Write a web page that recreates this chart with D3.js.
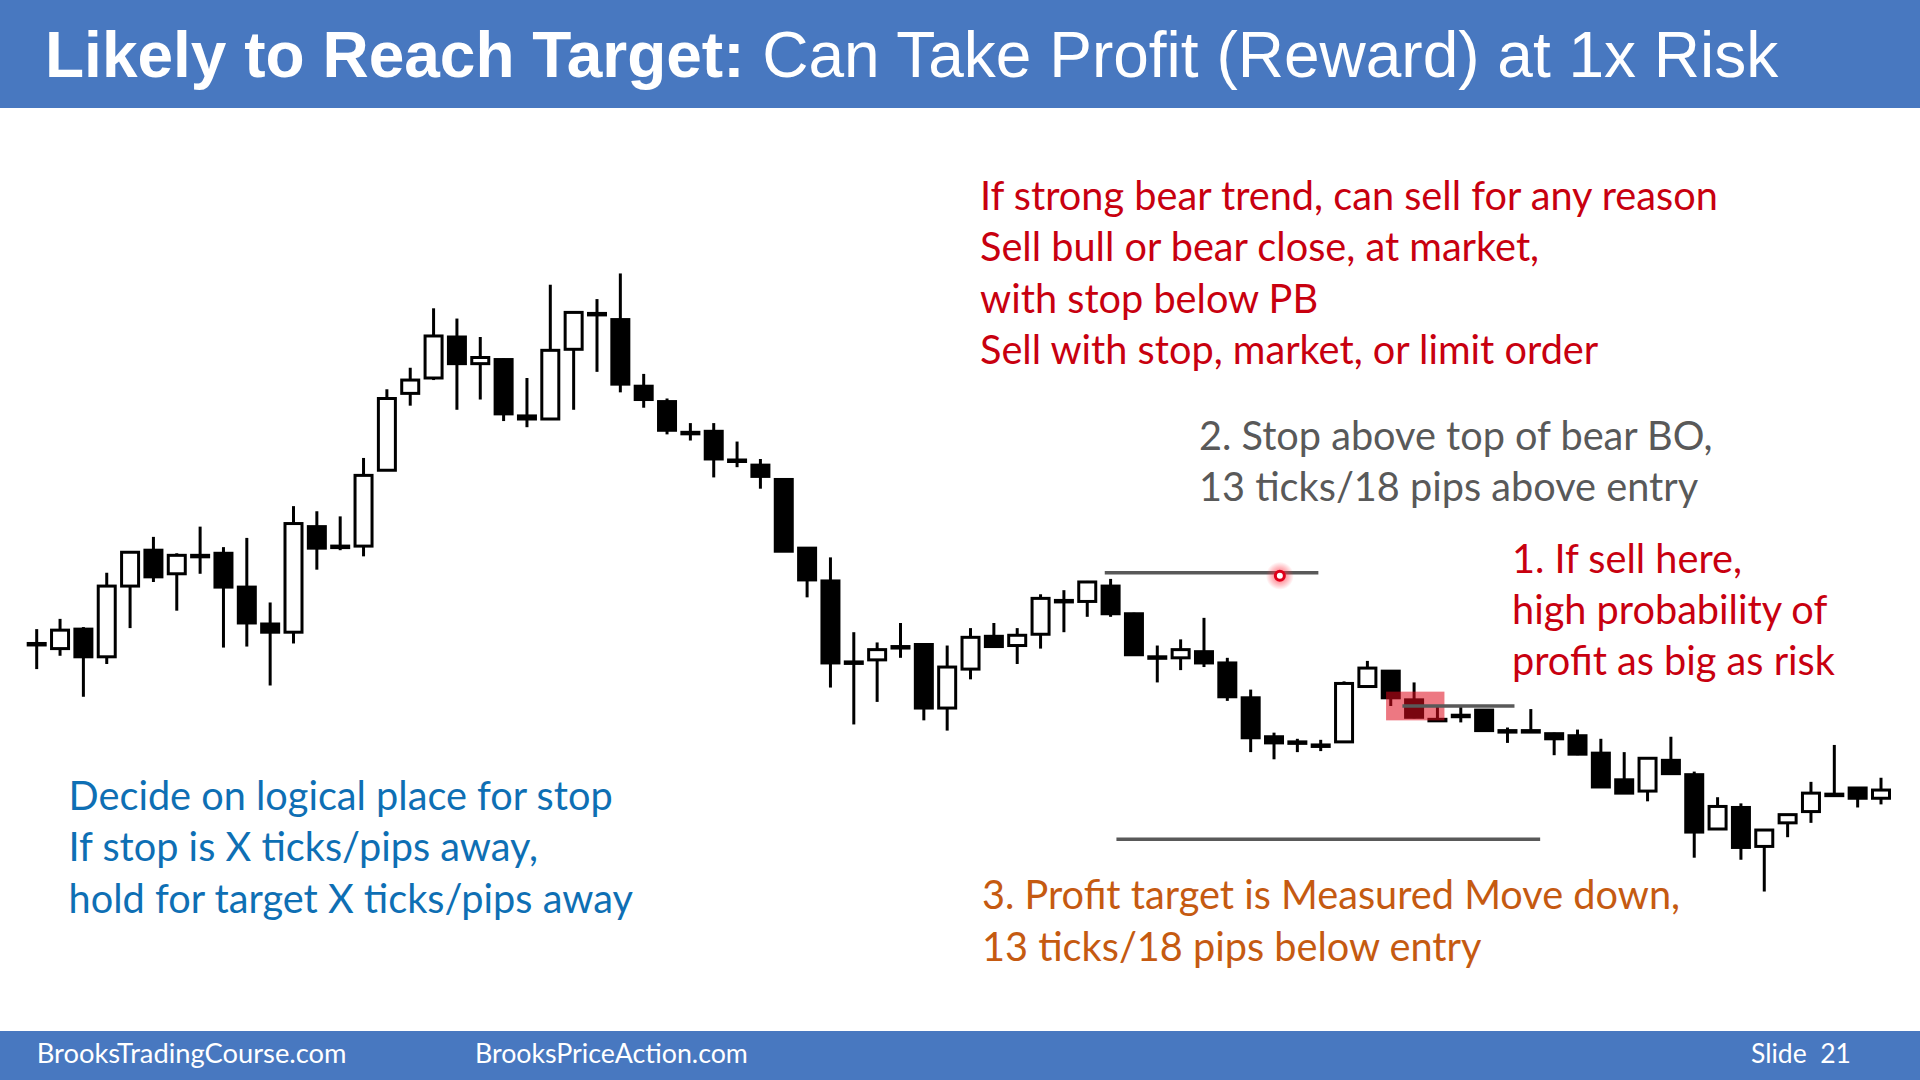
<!DOCTYPE html>
<html><head><meta charset="utf-8">
<script src="https://cdn.jsdelivr.net/npm/d3@7"></script>
<style>html,body{margin:0;padding:0;background:#fff;overflow:hidden}svg{display:block}</style>
</head><body>
<svg id="chart" width="1920" height="1080"></svg>
<script>
// ---- DATA (prices in ticks) ----
const opens  = [36.0,35.6,37.5,34.8,41.7,45.2,42.9,44.7,44.9,41.6, 38.0,37.2,47.5,45.6,45.6,53.0,60.5,62.0,66.0,63.4, 63.8,58.3,58.0,64.8,68.3,67.7,61.2,59.7,56.7,56.8, 54.0,53.5,52.1,45.4,42.2,34.3,34.5,35.8,36.0,29.8, 33.6,36.8,35.9,37.0,40.3,40.2,41.7,39.0,34.8,34.7, 35.3,34.2,30.8,27.0,26.5,26.2,26.5,31.9,33.4,30.6, 28.7,29.1,29.6,27.6,27.6,27.3,27.1,25.4,22.8,21.7, 24.7,23.3,18.0,20.1,16.3,18.6,19.7,21.4,22.0,21.0];
const highs  = [37.5,38.5,37.7,43.0,45.0,46.5,44.9,47.5,45.5,46.4, 40.1,49.5,49.0,48.5,54.2,60.9,63.0,68.8,67.8,66.0, 63.9,62.0,71.1,68.5,69.7,72.2,62.4,60.0,57.6,57.6, 55.8,54.1,52.1,45.4,44.5,37.2,36.2,38.1,36.0,35.9, 37.6,38.1,37.6,40.9,41.3,42.2,42.4,39.1,35.9,36.5, 38.6,34.7,31.6,27.4,26.8,26.7,32.4,34.4,33.5,32.3, 29.9,29.9,29.7,27.9,29.7,27.4,27.7,26.8,25.5,25.0, 27.0,23.6,21.1,20.5,17.9,19.4,22.6,26.2,22.1,23.0];
const lows   = [33.6,34.9,30.9,34.1,37.6,42.1,39.3,42.9,35.7,35.8, 32.0,36.1,43.3,45.2,44.6,53.0,59.3,61.8,58.9,59.9, 57.8,57.2,57.9,58.9,62.6,60.6,59.1,56.5,55.9,52.3, 53.3,51.2,45.1,40.6,31.8,28.2,30.4,34.7,28.6,27.6, 32.6,35.8,34.1,35.6,37.2,38.7,38.7,35.0,32.3,33.5, 33.8,30.5,25.5,24.8,25.5,25.6,26.4,31.9,30.0,28.8, 28.6,28.4,27.6,26.4,27.5,25.2,25.2,22.1,21.5,20.7, 23.4,15.2,18.0,15.0,11.9,17.2,18.6,21.4,20.1,20.4];
const closes = [36.1,37.4,34.8,41.7,45.0,42.6,44.7,44.6,41.6,38.1, 37.2,47.8,45.4,45.5,52.5,60.0,61.8,66.1,63.4,64.0, 58.5,58.0,64.7,68.4,68.2,61.4,59.9,56.9,56.6,54.1, 53.9,52.4,45.1,42.3,34.2,34.3,35.5,35.8,29.8,33.8, 36.7,35.8,36.9,40.5,40.3,42.1,39.0,35.0,34.8,35.5, 34.2,30.9,26.9,26.4,26.4,26.2,32.2,33.7,30.8,28.9, 28.6,29.1,27.6,27.6,27.5,26.8,25.3,22.1,21.5,24.9, 23.4,17.7,20.2,16.2,17.9,19.4,21.5,21.4,21.0,21.8];

// trade levels (price) and their spans (bar index)
const levelPrices = [43.0, 30.0, 17.0];          // stop, entry, target
const levelSpans  = [[45.75,54.9],[58.5,63.3],[46.25,64.4]];
const entryZone   = [57.8, 60.3, 31.4, 28.6];    // bar from, bar to, price top, price bottom
const pointerAt   = [53.25, 42.7];               // bar, price

// texts
const titleBold = "Likely to Reach Target:";
const titleRegular = "Can Take Profit (Reward) at 1x Risk";
const redLines = ["If strong bear trend, can sell for any reason","Sell bull or bear close, at market,","with stop below PB","Sell with stop, market, or limit order"];
const grayLines = ["2. Stop above top of bear BO,","13 ticks/18 pips above entry"];
const red2Lines = ["1. If sell here,","high probability of","profit as big as risk"];
const blueLines = ["Decide on logical place for stop","If stop is X ticks/pips away,","hold for target X ticks/pips away"];
const orangeLines = ["3. Profit target is Measured Move down,","13 ticks/18 pips below entry"];
const footerTexts = ["BrooksTradingCourse.com","BrooksPriceAction.com","Slide\u00a0\u00a021"];

// ---- DRAW ----
const svg = d3.select("#chart");
const W = 1920, H = 1080;
const BLUE = "#4878c0";

svg.append("rect").attr("width",W).attr("height",H).attr("fill","#fff");
svg.append("rect").attr("x",0).attr("y",0).attr("width",W).attr("height",108).attr("fill",BLUE);
svg.append("rect").attr("x",0).attr("y",1031).attr("width",W).attr("height",49).attr("fill",BLUE);

const title = svg.append("text").attr("x",45).attr("y",77)
  .attr("font-family","'Liberation Sans', Arial, sans-serif").attr("font-size",64).attr("fill","#fff");
title.append("tspan").attr("font-weight","bold").text(titleBold);
title.append("tspan").attr("font-weight","normal").text(" " + titleRegular);

const n = opens.length;
const x = d3.scaleLinear().domain([0, n-1]).range([36.7, 1881]);
const y = d3.scaleLinear().domain([0, 80]).range([706 + 30*10.25, 706 - 50*10.25]);

const bars = d3.range(n).map(i => ({i, o:opens[i], h:highs[i], l:lows[i], c:closes[i]}));
const bodyW = 17;

const g = svg.append("g");
g.selectAll("line.wick").data(bars).join("line").attr("class","wick")
  .attr("x1",d=>x(d.i)).attr("x2",d=>x(d.i))
  .attr("y1",d=>y(d.h)).attr("y2",d=>y(d.l))
  .attr("stroke","#000").attr("stroke-width",3);
g.selectAll("rect.body").data(bars).join("rect").attr("class","body")
  .attr("x",d=>x(d.i)-bodyW/2).attr("width",bodyW)
  .attr("y",d=>y(Math.max(d.o,d.c)))
  .attr("height",d=>Math.max(Math.abs(y(d.o)-y(d.c)),1.5))
  .attr("fill",d=>d.c>d.o ? "#fff" : "#000")
  .attr("stroke","#000").attr("stroke-width",3);

// entry zone highlight
svg.append("rect")
  .attr("x",x(entryZone[0])).attr("width",x(entryZone[1])-x(entryZone[0]))
  .attr("y",y(entryZone[2])).attr("height",y(entryZone[3])-y(entryZone[2]))
  .attr("fill","rgb(222,10,28)").attr("fill-opacity",0.55);

// level lines
svg.selectAll("line.level").data(levelPrices).join("line").attr("class","level")
  .attr("x1",(d,k)=>x(levelSpans[k][0])).attr("x2",(d,k)=>x(levelSpans[k][1]))
  .attr("y1",d=>y(d)).attr("y2",d=>y(d))
  .attr("stroke","#595959").attr("stroke-width",3.5);

// pointer marker
const defs = svg.append("defs");
const rg = defs.append("radialGradient").attr("id","glow");
rg.append("stop").attr("offset","35%").attr("stop-color","#ff3344").attr("stop-opacity",0.55);
rg.append("stop").attr("offset","100%").attr("stop-color","#ff3344").attr("stop-opacity",0);
svg.append("circle").attr("cx",x(pointerAt[0])).attr("cy",y(pointerAt[1])).attr("r",14).attr("fill","url(#glow)");
svg.append("circle").attr("cx",x(pointerAt[0])).attr("cy",y(pointerAt[1])).attr("r",4.5)
  .attr("fill","#fff").attr("stroke","#e0001a").attr("stroke-width",3);

// body text size fitted to reference line width
const FONT = "Lato, 'Open Sans', sans-serif";
const probe = svg.append("text").attr("font-family",FONT).attr("font-size",100).text(redLines[0]);
const bodySize = 100 * 738 / probe.node().getComputedTextLength();
probe.remove();

function block(lines, x0, y0, color){
  svg.append("g").selectAll("text").data(lines).join("text")
    .attr("x",x0).attr("y",(d,k)=>y0 + k*51.4)
    .attr("font-family",FONT).attr("font-size",bodySize).attr("fill",color).text(d=>d);
}
block(redLines, 980, 210, "#c8000f");
block(grayLines, 1199, 450, "#595959");
block(red2Lines, 1512, 572.5, "#c8000f");
block(blueLines, 68.6, 810, "#0e6fb4");
block(orangeLines, 982, 909.2, "#c55a11");

// footer
const footX = [36.7, 475, 1751], footW = [310, 273, 100];
footerTexts.forEach((t,k)=>{
  const tx = svg.append("text").attr("x",footX[k]).attr("y",1063)
    .attr("font-family",FONT).attr("font-size",100).attr("fill","#fff").text(t);
  const w = tx.node().getComputedTextLength();
  tx.attr("font-size", 100*footW[k]/w);
});
</script>
</body></html>
